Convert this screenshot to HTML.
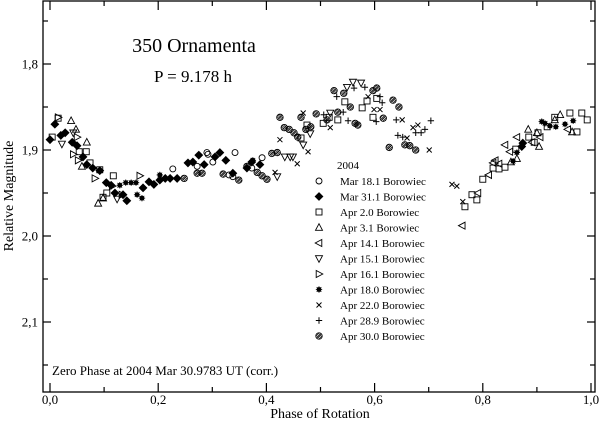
<!DOCTYPE html>
<html><head><meta charset="utf-8"><style>
body{margin:0;background:#fff}
svg{display:block;font-family:"Liberation Serif",serif}
</style></head><body>
<svg id="chart" width="600" height="421" viewBox="0 0 600 421" xmlns="http://www.w3.org/2000/svg">
<rect x="43" y="1" width="552" height="391" fill="none" stroke="#000" stroke-width="1.3"/>
<text x="194" y="52" font-size="20" text-anchor="middle">350 Ornamenta</text>
<text x="193" y="82" font-size="17" text-anchor="middle">P = 9.178 h</text>
<text x="52" y="375" font-size="13">Zero Phase at 2004 Mar 30.9783 UT (corr.)</text>
<text x="320" y="418" font-size="14" text-anchor="middle">Phase of Rotation</text>
<text transform="translate(13,196) rotate(-90)" font-size="14" text-anchor="middle">Relative Magnitude</text>
<g id="axes"></g><g id="marks"></g><g id="legend"></g>
</svg>
<script>
const xTicks=[0,0.1,0.2,0.3,0.4,0.5,0.6,0.7,0.8,0.9,1.0];
const xTickLabels=["0,0","","0,2","","0,4","","0,6","","0,8","","1,0"];
const yTicks=[1.75,1.8,1.85,1.9,1.95,2.0,2.05,2.1,2.15];
const yTickLabels=["","1,8","","1,9","","2,0","","2,1",""];
const seriesNames=["Mar 18.1 Borowiec","Mar 31.1 Borowiec","Apr 2.0 Borowiec","Apr 3.1 Borowiec","Apr 14.1 Borowiec","Apr 15.1 Borowiec","Apr 16.1 Borowiec","Apr 18.0 Borowiec","Apr 22.0 Borowiec","Apr 28.9 Borowiec","Apr 30.0 Borowiec"];
const seriesMarkers=["circle","diamond","square","tri-up","tri-left","tri-down","tri-right","star","x","plus","ocross"];
const mar18=[[0.227,1.922],[0.272,1.919],[0.290,1.903],[0.292,1.905],[0.301,1.914],[0.331,1.929],[0.342,1.903],[0.338,1.931],[0.373,1.921],[0.392,1.909]];
const mar31=[[0.000,1.888],[0.009,1.870],[0.020,1.883],[0.028,1.880],[0.041,1.891],[0.050,1.895],[0.061,1.908],[0.068,1.917],[0.079,1.921],[0.092,1.924],[0.104,1.938],[0.113,1.941],[0.120,1.950],[0.135,1.952],[0.142,1.959],[0.172,1.944],[0.183,1.937],[0.192,1.940],[0.203,1.935],[0.213,1.933],[0.222,1.933],[0.235,1.933],[0.255,1.915],[0.264,1.914],[0.275,1.906],[0.285,1.917],[0.305,1.908],[0.314,1.903],[0.325,1.912],[0.338,1.927],[0.364,1.921],[0.373,1.914],[0.388,1.917],[0.874,1.892],[0.872,1.896]];
const apr02=[[0.004,1.885],[0.015,1.863],[0.054,1.902],[0.067,1.902],[0.074,1.915],[0.092,1.923],[0.117,1.930],[0.105,1.950],[0.098,1.955],[0.545,1.844],[0.604,1.840],[0.586,1.843],[0.577,1.851],[0.532,1.865],[0.505,1.869],[0.516,1.862],[0.475,1.871],[0.464,1.886],[0.597,1.862],[0.780,1.952],[0.789,1.958],[0.767,1.966],[0.800,1.934],[0.819,1.921],[0.830,1.922],[0.841,1.920],[0.861,1.899],[0.885,1.885],[0.902,1.880],[0.895,1.891],[0.933,1.862],[0.919,1.873],[0.961,1.857],[0.983,1.857],[0.993,1.865],[0.974,1.879]];
const apr03=[[0.039,1.866],[0.048,1.876],[0.068,1.891],[0.059,1.919],[0.089,1.962],[0.098,1.956],[0.884,1.876],[0.900,1.880],[0.904,1.896],[0.943,1.859],[0.965,1.879],[0.863,1.910],[0.852,1.914],[0.933,1.865]];
const apr14=[[0.762,1.988],[0.791,1.950],[0.811,1.929],[0.823,1.912],[0.830,1.916],[0.841,1.894],[0.850,1.902],[0.863,1.885],[0.891,1.891],[0.906,1.885],[0.957,1.876],[0.819,1.915]];
const apr15=[[0.022,1.893],[0.043,1.880],[0.124,1.957],[0.560,1.821],[0.575,1.822],[0.549,1.827],[0.481,1.881],[0.468,1.894],[0.434,1.908],[0.444,1.908],[0.449,1.908],[0.420,1.931],[0.518,1.857]];
const apr16=[[0.015,1.862],[0.050,1.885],[0.043,1.905],[0.052,1.912],[0.083,1.933],[0.166,1.930],[0.115,1.942],[0.133,1.952]];
const apr18=[[0.129,1.941],[0.140,1.938],[0.150,1.938],[0.159,1.938],[0.161,1.952],[0.170,1.956],[0.203,1.929],[0.375,1.912],[0.915,1.869],[0.924,1.872],[0.935,1.873],[0.952,1.870],[0.967,1.866],[0.863,1.903],[0.856,1.913],[0.909,1.867]];
const apr22=[[0.425,1.888],[0.477,1.902],[0.457,1.916],[0.416,1.926],[0.468,1.857],[0.518,1.874],[0.588,1.838],[0.599,1.853],[0.610,1.853],[0.651,1.865],[0.680,1.871],[0.671,1.874],[0.660,1.886],[0.701,1.900],[0.743,1.940],[0.752,1.942],[0.763,1.960]];
const apr28=[[0.530,1.838],[0.562,1.828],[0.582,1.827],[0.610,1.838],[0.614,1.845],[0.551,1.866],[0.603,1.867],[0.640,1.865],[0.643,1.883],[0.652,1.885],[0.676,1.880],[0.686,1.880],[0.693,1.876],[0.704,1.866],[0.542,1.856],[0.506,1.859]];
const apr30=[[0.248,1.933],[0.272,1.927],[0.281,1.927],[0.320,1.928],[0.349,1.935],[0.364,1.919],[0.383,1.926],[0.392,1.930],[0.401,1.934],[0.410,1.904],[0.420,1.903],[0.425,1.862],[0.433,1.874],[0.442,1.876],[0.451,1.880],[0.458,1.885],[0.525,1.831],[0.543,1.834],[0.597,1.831],[0.604,1.828],[0.634,1.842],[0.645,1.850],[0.555,1.850],[0.564,1.869],[0.569,1.871],[0.532,1.856],[0.492,1.858],[0.464,1.862],[0.482,1.873],[0.473,1.876],[0.616,1.863],[0.627,1.897],[0.656,1.894],[0.665,1.895],[0.676,1.900],[0.512,1.865]];
const seriesData=[mar18,mar31,apr02,apr03,apr14,apr15,apr16,apr18,apr22,apr28,apr30];

const NS="http://www.w3.org/2000/svg";
const L=43,R=595,T=1,B=392;
function xs(v){return 50+v*541;}
function ys(v){return 150+(v-1.9)*860;}
function mk(tag,attrs,parent){const e=document.createElementNS(NS,tag);for(const k in attrs)e.setAttribute(k,attrs[k]);parent.appendChild(e);return e;}
const axes=document.getElementById('axes');
xTicks.forEach((t,i)=>{
  const x=xs(t),len=(i%2===0)?9:5;
  const a=mk('line',{x1:x,x2:x,y1:B,y2:B-len,stroke:'#000','stroke-width':1.2},axes);
  
  
  const b=mk('line',{x1:x,x2:x,y1:T,y2:T+len,stroke:'#000','stroke-width':1.2},axes);
  
  
  if(xTickLabels[i]){const tx=mk('text',{x:x,y:404,'font-size':13,'text-anchor':'middle'},axes);tx.textContent=xTickLabels[i];
  
  }
});
yTicks.forEach((t,i)=>{
  const y=ys(t),len=yTickLabels[i]?8:5;
  const a=mk('line',{x1:L,x2:L+len,y1:y,y2:y,stroke:'#000','stroke-width':1.2},axes);
  
  
  const b=mk('line',{x1:R,x2:R-len,y1:y,y2:y,stroke:'#000','stroke-width':1.2},axes);
  
  
  if(yTickLabels[i]){const tx=mk('text',{x:38,y:y+4.5,'font-size':13,'text-anchor':'end'},axes);tx.textContent=yTickLabels[i];
  
  }
});
function marker(type,x,y,parent){
  const g=mk('g',{},parent);const s=3;
  const st={fill:'none',stroke:'#000','stroke-width':0.9};
  const P=(pts,f)=>mk('polygon',Object.assign({},st,{points:pts.map(p=>p.join(',')).join(' ')},f?{fill:'#000'}:{}),g);
  switch(type){
    case 'circle':mk('circle',Object.assign({},st,{cx:x,cy:y,r:3}),g);break;
    case 'diamond':P([[x,y-3.8],[x+3.8,y],[x,y+3.8],[x-3.8,y]],true);break;
    case 'square':mk('rect',Object.assign({},st,{x:x-3,y:y-3,width:6,height:6}),g);break;
    case 'tri-up':P([[x,y-3.8],[x+3.5,y+2.8],[x-3.5,y+2.8]]);break;
    case 'tri-down':P([[x,y+3.8],[x+3.5,y-2.8],[x-3.5,y-2.8]]);break;
    case 'tri-left':P([[x-3.8,y],[x+2.8,y-3.5],[x+2.8,y+3.5]]);break;
    case 'tri-right':P([[x+3.8,y],[x-2.8,y-3.5],[x-2.8,y+3.5]]);break;
    case 'star':mk('circle',{cx:x,cy:y,r:2.4,fill:'#000'},g);
      mk('path',{d:`M${x-3.2},${y}H${x+3.2}M${x},${y-3.2}V${y+3.2}M${x-2.3},${y-2.3}L${x+2.3},${y+2.3}M${x-2.3},${y+2.3}L${x+2.3},${y-2.3}`,stroke:'#000','stroke-width':0.8},g);break;
    case 'x':mk('path',{d:`M${x-2.5},${y-2.5}L${x+2.5},${y+2.5}M${x-2.5},${y+2.5}L${x+2.5},${y-2.5}`,stroke:'#000','stroke-width':1},g);break;
    case 'plus':mk('path',{d:`M${x-3.2},${y}H${x+3.2}M${x},${y-3.2}V${y+3.2}`,stroke:'#000','stroke-width':1},g);break;
    case 'ocross':mk('circle',Object.assign({},st,{cx:x,cy:y,r:3.2}),g);
      mk('path',{d:`M${x-2.3},${y-2.3}L${x+2.3},${y+2.3}M${x-2.3},${y+2.3}L${x+2.3},${y-2.3}M${x-1},${y-3}L${x+3},${y+1}M${x-3},${y-1}L${x+1},${y+3}`,stroke:'#000','stroke-width':0.7},g);break;
  }
  return g;
}
const marks=document.getElementById('marks');
seriesData.forEach((arr,si)=>{
  const sg=mk('g',{},marks);
  
  
  arr.forEach(p=>{
    const m=marker(seriesMarkers[si],xs(p[0]),ys(p[1]),sg);
    
    
  });
});
const leg=document.getElementById('legend');


const lt=mk('text',{x:337,y:169,'font-size':11},leg);lt.textContent='2004';


seriesNames.forEach((n,i)=>{
  const y=181+i*15.5;
  const g=mk('g',{},leg);
  
  
  marker(seriesMarkers[i],319,y,g);
  const t=mk('text',{x:340,y:y+4,'font-size':11},g);t.textContent=n;
});
</script>
</body></html>
